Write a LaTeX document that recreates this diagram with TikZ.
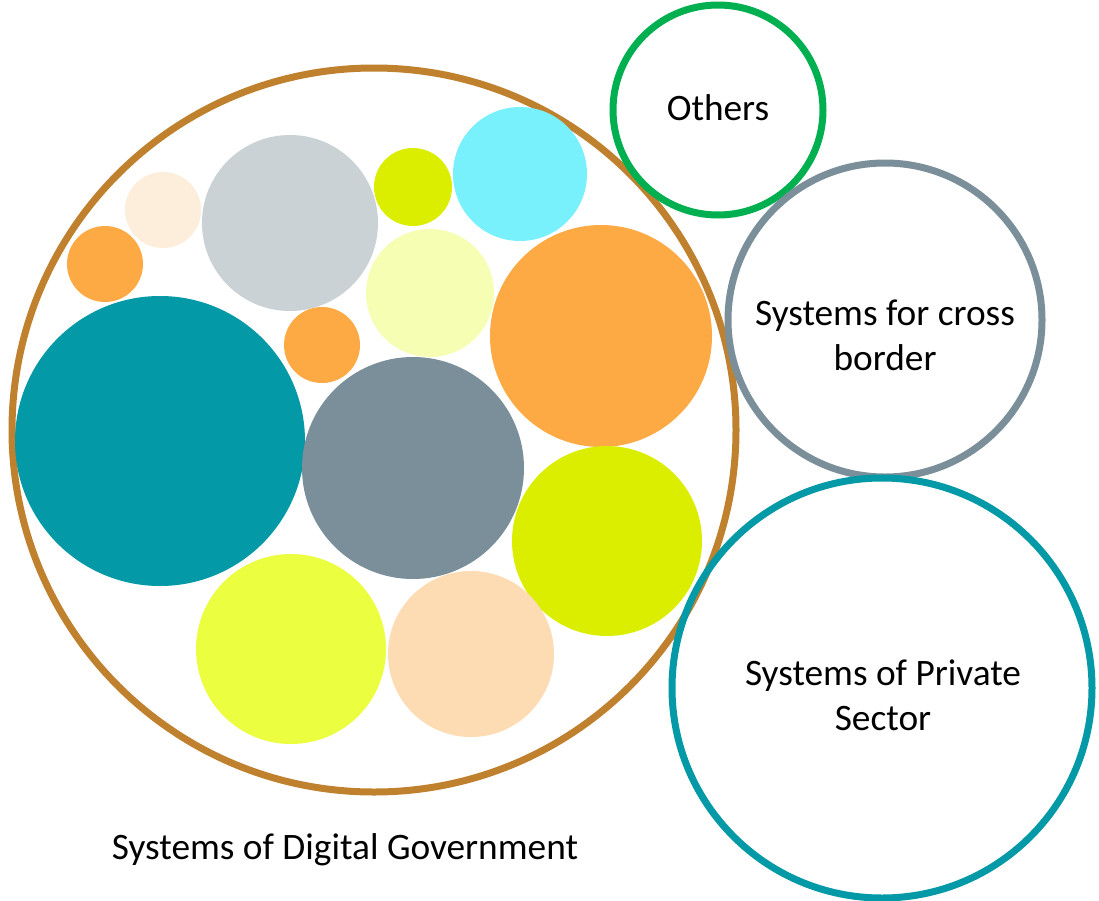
\documentclass[tikz,border=0pt]{standalone}
\usepackage{fontspec}
\setmainfont{Carlito}
\definecolor{cBrown}{HTML}{C0812F}
\definecolor{cGreen}{HTML}{00B050}
\definecolor{cSlate}{HTML}{7A8F99}
\definecolor{cTeal}{HTML}{0399A6}
\definecolor{cOrange}{HTML}{FEAA44}
\definecolor{cLime}{HTML}{DCEE00}
\definecolor{cYellow}{HTML}{EBFF40}
\definecolor{cPeach}{HTML}{FDDCB3}
\definecolor{cLightGray}{HTML}{CAD2D6}
\definecolor{cPale}{HTML}{F6FEB4}
\definecolor{cCyan}{HTML}{78F1FC}
\definecolor{cCream}{HTML}{FDEDDB}
\begin{document}
\begin{tikzpicture}[x=0.75pt,y=-0.75pt,
  disc/.style={circle, inner sep=0pt, outer sep=0pt, draw=none, fill=#1},
  ring/.style={circle, inner sep=0pt, outer sep=0pt, draw=#1, line width=5.25pt, fill=none},
  lbl/.style={font=\fontsize{28}{34}\selectfont, align=center, text=black, inner sep=0pt}]
\useasboundingbox[fill=white] (0,0) rectangle (1099,900);
% outer container
\node[ring=cBrown, minimum size=2*362*0.75pt] (gov) at (374,430) {};
% filled discs
\node[disc=cTeal, minimum size=2*145*0.75pt] (d1) at (160,441) {};
\node[disc=cSlate, minimum size=2*111*0.75pt] (d2) at (413,468) {};
\node[disc=cOrange, minimum size=2*111*0.75pt] (d3) at (601,336) {};
\node[disc=cLime, minimum size=2*95*0.75pt] (d4) at (607,541) {};
\node[disc=cYellow, minimum size=2*95*0.75pt] (d5) at (291,649) {};
\node[disc=cPeach, minimum size=2*83*0.75pt] (d6) at (471,654) {};
\node[disc=cLightGray, minimum size=2*88*0.75pt] (d7) at (290,223) {};
\node[disc=cPale, minimum size=2*64*0.75pt] (d8) at (430,293) {};
\node[disc=cCyan, minimum size=2*67*0.75pt] (d9) at (520,174) {};
\node[disc=cLime, minimum size=2*39*0.75pt] (d10) at (413,187) {};
\node[disc=cCream, minimum size=2*38*0.75pt] (d11) at (163,210) {};
\node[disc=cOrange, minimum size=2*38*0.75pt] (d12) at (105,264) {};
\node[disc=cOrange, minimum size=2*38*0.75pt] (d13) at (322,345) {};
% outer rings
\node[ring=cGreen, minimum size=2*105*0.75pt] (others) at (718,110) {};
\node[ring=cSlate, minimum size=2*157*0.75pt] (cross) at (885,320) {};
\node[ring=cTeal, minimum size=2*210*0.75pt] (private) at (882,688) {};
% labels
\node[lbl] (tOthers) at (718,108) {Others};
\node[lbl] (tCross) at (885,335) {Systems for cross\\border};
\node[lbl] (tPrivate) at (883,695) {Systems of Private\\Sector};
\node[lbl] (tGov) at (345,850) {Systems of Digital Government};
\end{tikzpicture}
\end{document}
